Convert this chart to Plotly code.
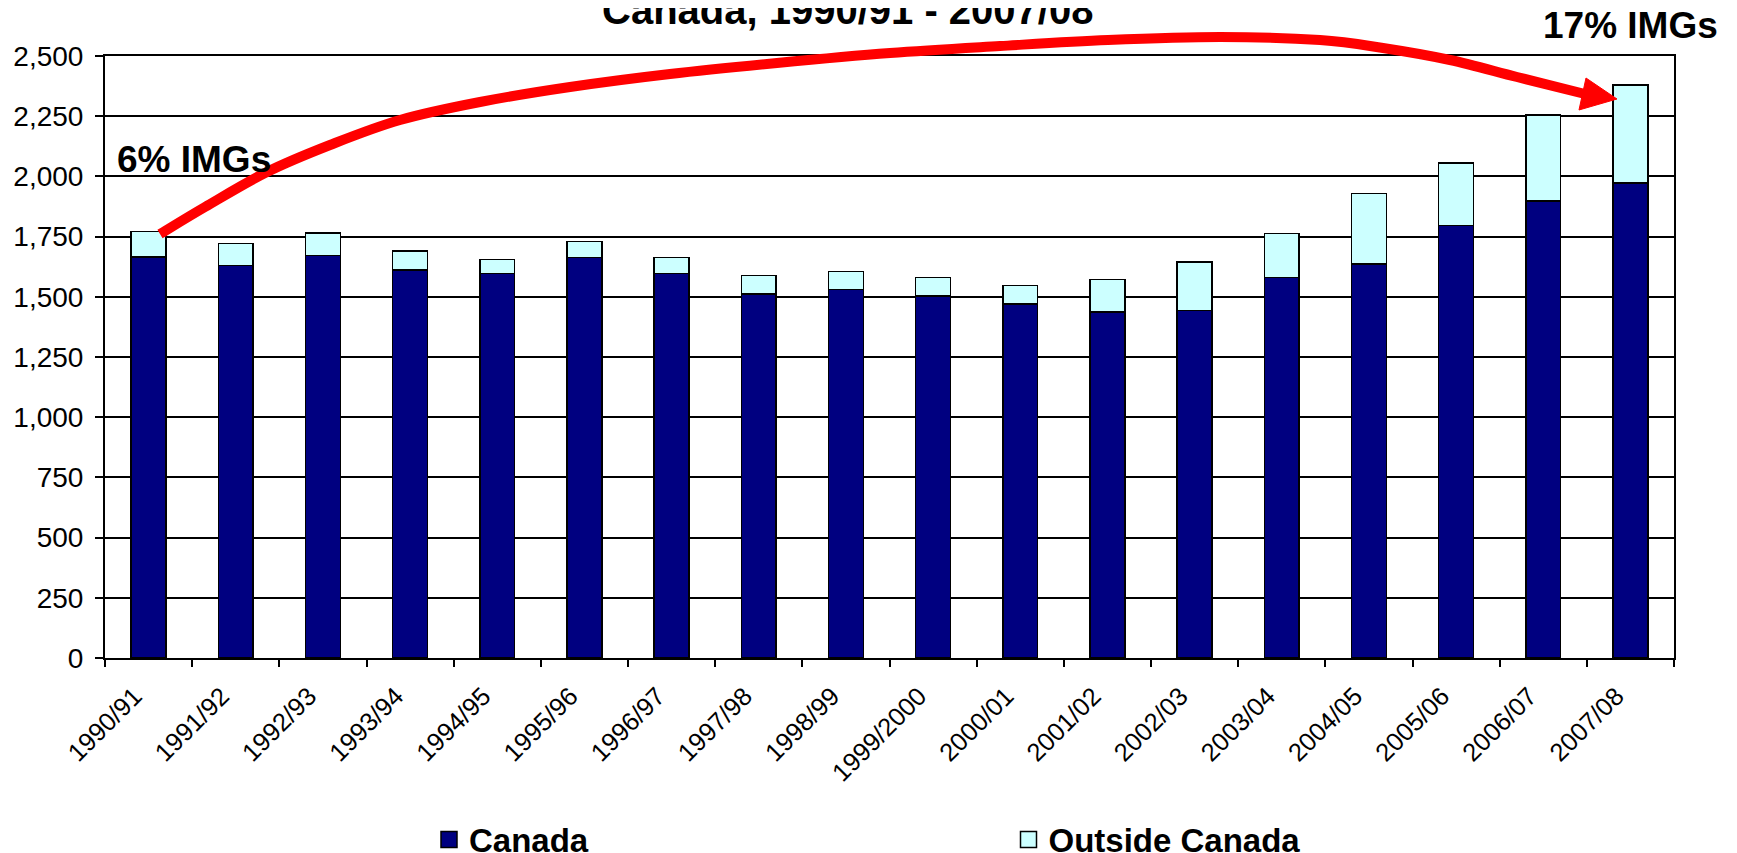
import plotly.graph_objects as go

# ---------------- data ----------------
years = ["1990/91", "1991/92", "1992/93", "1993/94", "1994/95", "1995/96",
         "1996/97", "1997/98", "1998/99", "1999/2000", "2000/01", "2001/02",
         "2002/03", "2003/04", "2004/05", "2005/06", "2006/07", "2007/08"]
canada = [1665, 1630, 1672, 1612, 1597, 1663, 1597, 1512, 1530, 1503, 1470,
          1436, 1443, 1580, 1637, 1797, 1897, 1972]
outside_canada = [107, 92, 93, 78, 58, 67, 66, 76, 75, 77, 76, 135, 202, 183,
                  292, 258, 357, 408]
y_ticks = list(range(0, 2501, 250))

title_text = "Canada, 1990/91 - 2007/08"
start_label = "6% IMGs"
end_label = "17% IMGs"

# ---------------- layout geometry (window pixels) ----------------
W, H = 1737, 853
BODY = 8                      # default page margin of the html body
PL, PT, PR, PB = 105, 56, 1674, 658   # plot area in window pixels
PW, PH = PR - PL, PB - PT
ML, MT = PL - BODY, PT - BODY
MR = W - ML - PW
MB = H - MT - PH
FONT = "Arial, Liberation Sans, sans-serif"


def px_to_paper(x, y):
    return (x - PL) / PW, (PB - y) / PH


# red arrow drawn as decoration (window-pixel guide points of the curve)
arrow_curve_px = [(160, 234), (205, 207), (267, 172), (330, 145), (400, 120),
                  (480, 102), (570, 87), (670, 74), (777, 63), (890, 53),
                  (1000, 46), (1108, 40), (1220, 37), (1320, 40), (1383, 48),
                  (1450, 60), (1517, 77), (1585, 94)]
arrow_head_px = [(1617, 99), (1586, 78), (1579, 110)]

pts = [px_to_paper(x, y) for x, y in arrow_curve_px]
path = "M %.5f,%.5f" % pts[0]
for i in range(len(pts) - 1):
    p0 = pts[i - 1] if i > 0 else pts[i]
    p1 = pts[i]
    p2 = pts[i + 1]
    p3 = pts[i + 2] if i + 2 < len(pts) else pts[i + 1]
    c1 = (p1[0] + (p2[0] - p0[0]) / 6, p1[1] + (p2[1] - p0[1]) / 6)
    c2 = (p2[0] - (p3[0] - p1[0]) / 6, p2[1] - (p3[1] - p1[1]) / 6)
    path += " C %.5f,%.5f %.5f,%.5f %.5f,%.5f" % (c1 + c2 + p2)
head = [px_to_paper(x, y) for x, y in arrow_head_px]
head_path = "M %.5f,%.5f L %.5f,%.5f L %.5f,%.5f Z" % (head[0] + head[1] + head[2])

NAVY = "#000080"
CYAN = "#CCFFFF"

fig = go.Figure()
fig.add_trace(go.Bar(x=years, y=canada, name="Canada",
                     marker=dict(color=NAVY, line=dict(color="black", width=1.5)),
                     showlegend=False))
fig.add_trace(go.Bar(x=years, y=outside_canada, name="Outside Canada",
                     marker=dict(color=CYAN, line=dict(color="black", width=1.5)),
                     showlegend=False))
# legend entries
fig.add_trace(go.Scatter(x=[None], y=[None], mode="markers", name="Canada",
                         marker=dict(symbol="square", size=18, color=NAVY,
                                     line=dict(color="black", width=1.5)),
                         legend="legend"))
fig.add_trace(go.Scatter(x=[None], y=[None], mode="markers", name="Outside Canada",
                         marker=dict(symbol="square", size=18, color=CYAN,
                                     line=dict(color="black", width=1.5)),
                         legend="legend2"))

lx1, ly = px_to_paper(429, 839.5)
lx2, _ = px_to_paper(1008.5, 839.5)
legend_font = dict(family=FONT, size=33, color="black", weight="bold")

tx, ty = px_to_paper(847, 34)
sx, sy = px_to_paper(114.5, 182.1)
ex, ey = px_to_paper(1630, 48.1)

fig.update_layout(
    width=W, height=H,
    margin=dict(l=ML, r=MR, t=MT, b=MB, autoexpand=False),
    paper_bgcolor="white", plot_bgcolor="white",
    barmode="stack", bargap=0.6,
    font=dict(family=FONT, color="black"),
    legend=dict(x=lx1, y=ly, xanchor="left", yanchor="middle", orientation="h",
                font=legend_font, bgcolor="rgba(0,0,0,0)"),
    legend2=dict(x=lx2, y=ly, xanchor="left", yanchor="middle", orientation="h",
                 font=legend_font, bgcolor="rgba(0,0,0,0)"),
    xaxis=dict(type="category", categoryorder="array", categoryarray=years,
               showline=True, linecolor="black", linewidth=2, mirror=True,
               ticks="outside", ticklen=7, tickwidth=1.5, tickcolor="black",
               tickson="boundaries", tickangle=-45, showgrid=False,
               ticklabelstandoff=11, ticklabelshift=-14,
               tickfont=dict(family=FONT, size=25.5, color="black")),
    yaxis=dict(range=[0, 2500], tickvals=y_ticks, tickformat=",",
               showgrid=True, gridcolor="black", gridwidth=1.5,
               showline=True, linecolor="black", linewidth=2, mirror=True,
               ticks="outside", ticklen=8, tickwidth=1.5, tickcolor="black",
               zeroline=False, ticklabelstandoff=6,
               tickfont=dict(family=FONT, size=28, color="black")),
    shapes=[
        dict(type="path", xref="paper", yref="paper", path=path,
             line=dict(color="#FF0000", width=10), layer="above"),
        dict(type="path", xref="paper", yref="paper", path=head_path,
             fillcolor="#FF0000", line=dict(color="#FF0000", width=1), layer="above"),
    ],
    annotations=[
        dict(text=title_text, xref="paper", yref="paper", x=tx, y=ty,
             xanchor="center", yanchor="bottom", showarrow=False,
             font=dict(family=FONT, size=40, color="black", weight="bold")),
        dict(text=start_label, xref="paper", yref="paper", x=sx, y=sy,
             xanchor="left", yanchor="bottom", showarrow=False,
             font=dict(family=FONT, size=37, color="black", weight="bold")),
        dict(text=end_label, xref="paper", yref="paper", x=ex, y=ey,
             xanchor="center", yanchor="bottom", showarrow=False,
             font=dict(family=FONT, size=37, color="black", weight="bold")),
    ],
)

fig.write_html("out.html")
